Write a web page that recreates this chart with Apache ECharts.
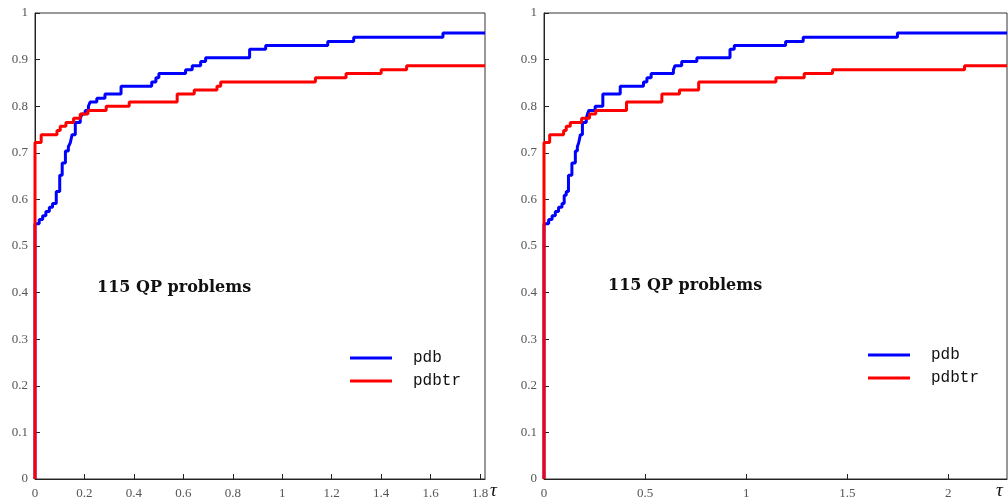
<!DOCTYPE html>
<html>
<head>
<meta charset="utf-8">
<script src="https://cdn.jsdelivr.net/npm/echarts@6/dist/echarts.min.js"></script>
<style>
  html, body { margin: 0; padding: 0; background: #fff; }
  #chart { width: 1008px; height: 504px; }
</style>
</head>
<body>
<div id="chart"></div>
<script>
// performance profiles, [tau, rho] pairs
var pdbLeft = [[0,0],[0,0.548],[0.017,0.557],[0.031,0.565],[0.044,0.574],[0.058,0.583],[0.071,0.591],
  [0.086,0.617],[0.100,0.652],[0.110,0.678],[0.123,0.704],[0.135,0.713],[0.143,0.722],[0.150,0.739],
  [0.163,0.765],[0.183,0.774],[0.190,0.783],[0.203,0.791],[0.216,0.800],[0.223,0.809],[0.250,0.817],
  [0.283,0.826],[0.348,0.843],[0.472,0.852],[0.489,0.861],[0.501,0.870],[0.609,0.878],[0.636,0.887],
  [0.670,0.896],[0.690,0.904],[0.868,0.922],[0.933,0.930],[1.184,0.939],[1.289,0.948],[1.650,0.957],[1.82,0.957]]
var pdbtrLeft = [[0,0],[0,0.722],[0.025,0.739],[0.089,0.748],[0.102,0.757],[0.125,0.765],[0.156,0.774],
  [0.183,0.783],[0.214,0.791],[0.288,0.800],[0.381,0.809],[0.575,0.826],[0.644,0.835],[0.736,0.843],
  [0.751,0.852],[1.134,0.861],[1.258,0.870],[1.400,0.878],[1.503,0.887],[1.82,0.887]]
var pdbRight = [[0,0],[0,0.548],[0.023,0.557],[0.040,0.565],[0.056,0.574],[0.072,0.583],[0.089,0.591],
  [0.100,0.609],[0.110,0.617],[0.121,0.652],[0.138,0.678],[0.155,0.704],[0.165,0.713],[0.172,0.722],
  [0.180,0.739],[0.190,0.765],[0.209,0.774],[0.215,0.783],[0.222,0.791],[0.253,0.800],[0.291,0.826],
  [0.377,0.843],[0.492,0.852],[0.509,0.861],[0.530,0.870],[0.640,0.878],[0.648,0.887],[0.681,0.896],
  [0.756,0.904],[0.920,0.922],[0.941,0.930],[1.195,0.939],[1.282,0.948],[1.748,0.957],[2.29,0.957]]
var pdbtrRight = [[0,0],[0,0.722],[0.028,0.739],[0.097,0.748],[0.110,0.757],[0.130,0.765],[0.186,0.774],
  [0.225,0.783],[0.256,0.791],[0.408,0.809],[0.583,0.826],[0.670,0.835],[0.765,0.852],[1.147,0.861],
  [1.287,0.870],[1.427,0.878],[2.080,0.887],[2.29,0.887]]

var names = ['pdb', 'pdbtr']
var colors = ['#0000ff', '#ff0000']
var xMax = [1.82, 2.29]
var xStep = [0.2, 0.5]
var panelNote = '115 QP problems'

var chart = echarts.init(document.getElementById('chart'))
window.addEventListener('resize', function () { chart.resize() })

var serif = 'Liberation Serif'
var grids = [
  { left: 35, top: 13, width: 450, height: 466 },
  { left: 544, top: 13, width: 463, height: 466 }
]

function xAxis (i) {
  return {
    gridIndex: i, type: 'value', min: 0, max: xMax[i], interval: xStep[i],
    axisLine: { show: true, onZero: false, lineStyle: { color: '#222', width: 1 } },
    axisTick: { show: true, inside: true, length: 5, lineStyle: { color: '#222' } },
    axisLabel: { color: '#555', fontFamily: serif, fontSize: 13, margin: 8, showMaxLabel: false },
    splitLine: { show: false }
  }
}
function yAxis (i) {
  return {
    gridIndex: i, type: 'value', min: 0, max: 1, interval: 0.1,
    axisLine: { show: true, lineStyle: { color: '#222', width: 1 } },
    axisTick: { show: true, inside: true, length: 5, lineStyle: { color: '#222' } },
    axisLabel: { color: '#555', fontFamily: serif, fontSize: 13, margin: 7 },
    splitLine: { show: false }
  }
}
function line (name, data, i, color) {
  return {
    name: name, type: 'line', xAxisIndex: i, yAxisIndex: i, data: data,
    step: 'end', showSymbol: false, symbol: 'none', clip: false,
    lineStyle: { color: color, width: 3 }, itemStyle: { color: color },
    emphasis: { disabled: true }, animation: false
  }
}
function legend (left, top) {
  return {
    data: names, orient: 'vertical', left: left, top: top, itemGap: 7,
    icon: 'rect', itemWidth: 42, itemHeight: 3,
    textStyle: { fontFamily: 'Liberation Mono', fontSize: 16, color: '#111', padding: [0, 0, 0, 16] },
    selectedMode: false
  }
}

var option = {
  animation: false,
  grid: grids.map(function (g) {
    return Object.assign({ show: true, borderColor: '#333', borderWidth: 1, backgroundColor: 'transparent' }, g)
  }),
  xAxis: [xAxis(0), xAxis(1)],
  yAxis: [yAxis(0), yAxis(1)],
  legend: [legend(345, 345), legend(863, 342)],
  series: [
    line(names[0], pdbLeft, 0, colors[0]),
    line(names[1], pdbtrLeft, 0, colors[1]),
    line(names[0], pdbRight, 1, colors[0]),
    line(names[1], pdbtrRight, 1, colors[1])
  ],
  graphic: [
    { type: 'text', left: 97, top: 280, style: { text: panelNote, font: 'bold 16px "DejaVu Serif"', fill: '#111' } },
    { type: 'text', left: 608, top: 278, style: { text: panelNote, font: 'bold 16px "DejaVu Serif"', fill: '#111' } },
    { type: 'text', left: 490, top: 481, style: { text: 'τ', font: 'italic 19px "Liberation Serif"', fill: '#111' } },
    { type: 'text', left: 996, top: 481, style: { text: 'τ', font: 'italic 19px "Liberation Serif"', fill: '#111' } }
  ]
}
chart.setOption(option)
</script>
</body>
</html>
